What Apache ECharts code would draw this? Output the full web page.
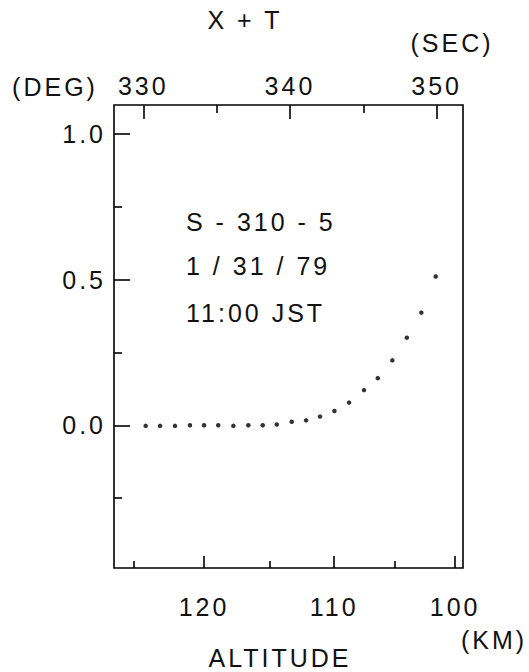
<!DOCTYPE html>
<html>
<head>
<meta charset="utf-8">
<script src="https://cdn.jsdelivr.net/npm/echarts@6/dist/echarts.min.js"></script>
<style>
  html, body { margin: 0; padding: 0; background: #fff; }
  #chart { width: 529px; height: 672px; }
  /* plotter lettering is widely spaced */
  #chart text { letter-spacing: 3px; }
</style>
</head>
<body>
<div id="chart"></div>
<script>
// X + T (sec) of each sample and the angle in degrees
const timeSec = [330.16, 331.14, 332.16, 333.18, 334.14, 335.11, 336.14, 337.16, 338.14, 339.1, 340.12,
  341.1, 342.05, 343.03, 344.03, 345.05, 345.99, 346.98, 347.97, 348.96, 349.94];
const angleDeg = [-0.002, -0.002, -0.002, 0.0, 0.0, 0.0, -0.002, 0.0, 0.0, 0.003, 0.012,
  0.017, 0.03, 0.049, 0.078, 0.121, 0.162, 0.223, 0.301, 0.387, 0.511];

// top axis ticks (sec)
const timeMajor = [330, 340, 350];
const timeMinor = [335, 345];

// bottom altitude axis: km labels and where they fall on the time scale
const altMajorKm = [120, 110, 100];
const altMajorTime = [334.14, 343.01, 351.26];
const altMinorKm = [125, 115, 105];
const altMinorTime = [329.36, 338.59, 347.17];

// left axis ticks (deg)
const degMajor = [0.0, 0.5, 1.0];
const degMinor = [-0.25, 0.25, 0.75];

const font = "'Liberation Sans', Arial, sans-serif";
const ink = "#111";

let myChart = echarts.init(document.getElementById("chart"), null, { renderer: "svg" });

function hiddenLine() {
  // keep every axis on the frame, never on the zero line
  return { show: false, onZero: false };
}

function altLabel(v) {
  let best = 0;
  for (let i = 1; i < altMajorTime.length; i++) {
    if (Math.abs(altMajorTime[i] - v) < Math.abs(altMajorTime[best] - v)) best = i;
  }
  return String(altMajorKm[best]);
}

let txt = { fontFamily: font, fontSize: 25, fill: ink };

myChart.setOption({
  animation: false,
  grid: {
    left: 114,
    top: 105,
    right: 66,
    bottom: 104,
    show: true,
    borderColor: "#000",
    borderWidth: 1.6,
    backgroundColor: "transparent",
  },
  xAxis: [
    {
      type: "value",
      position: "top",
      min: 328,
      max: 351.8,
      axisLine: hiddenLine(),
      splitLine: { show: false },
      axisTick: { inside: true, length: 14, customValues: timeMajor, lineStyle: { color: "#000", width: 1.6 } },
      axisLabel: { customValues: timeMajor, margin: 7, color: ink, fontFamily: font, fontSize: 25 },
    },
    {
      type: "value",
      position: "top",
      min: 328,
      max: 351.8,
      axisLine: hiddenLine(),
      splitLine: { show: false },
      axisTick: { inside: true, length: 8, customValues: timeMinor, lineStyle: { color: "#000", width: 1.6 } },
      axisLabel: { show: false },
    },
    {
      type: "value",
      position: "bottom",
      min: 328,
      max: 351.8,
      axisLine: hiddenLine(),
      splitLine: { show: false },
      axisTick: { inside: true, length: 12, customValues: altMajorTime, lineStyle: { color: "#000", width: 1.6 } },
      axisLabel: {
        customValues: altMajorTime,
        margin: 26,
        color: ink,
        fontFamily: font,
        fontSize: 25,
        formatter: altLabel,
      },
    },
    {
      type: "value",
      position: "bottom",
      min: 328,
      max: 351.8,
      axisLine: hiddenLine(),
      splitLine: { show: false },
      axisTick: { inside: true, length: 7, customValues: altMinorTime, lineStyle: { color: "#000", width: 1.6 } },
      axisLabel: { show: false },
    },
  ],
  yAxis: [
    {
      type: "value",
      position: "left",
      min: -0.49,
      max: 1.1,
      axisLine: hiddenLine(),
      splitLine: { show: false },
      axisTick: { inside: true, length: 16, customValues: degMajor, lineStyle: { color: "#000", width: 1.6 } },
      axisLabel: {
        customValues: degMajor,
        margin: 8,
        color: ink,
        fontFamily: font,
        fontSize: 25,
        formatter: (v) => v.toFixed(1),
      },
    },
    {
      type: "value",
      position: "left",
      min: -0.49,
      max: 1.1,
      axisLine: hiddenLine(),
      splitLine: { show: false },
      axisTick: { inside: true, length: 8, customValues: degMinor, lineStyle: { color: "#000", width: 1.6 } },
      axisLabel: { show: false },
    },
  ],
  series: [
    {
      type: "scatter",
      xAxisIndex: 0,
      yAxisIndex: 0,
      symbol: "circle",
      symbolSize: 4.5,
      itemStyle: { color: "#000" },
      data: timeSec.map((t, i) => [t, angleDeg[i]]),
    },
  ],
  graphic: [
    { type: "text", x: 245, y: 20, style: Object.assign({ text: "X + T", align: "center", verticalAlign: "middle" }, txt) },
    { type: "text", x: 452, y: 43, style: Object.assign({ text: "(SEC)", align: "center", verticalAlign: "middle" }, txt) },
    { type: "text", x: 55, y: 87, style: Object.assign({ text: "(DEG)", align: "center", verticalAlign: "middle" }, txt) },
    { type: "text", x: 494, y: 640, style: Object.assign({ text: "(KM)", align: "center", verticalAlign: "middle" }, txt) },
    { type: "text", x: 280, y: 658, style: Object.assign({ text: "ALTITUDE", align: "center", verticalAlign: "middle" }, txt) },
    { type: "text", x: 186, y: 222, style: Object.assign({ text: "S - 310 - 5", align: "left", verticalAlign: "middle" }, txt) },
    { type: "text", x: 186, y: 266, style: Object.assign({ text: "1 / 31 / 79", align: "left", verticalAlign: "middle" }, txt) },
    { type: "text", x: 186, y: 313, style: Object.assign({ text: "11:00 JST", align: "left", verticalAlign: "middle" }, txt) },
  ],
});
</script>
</body>
</html>
